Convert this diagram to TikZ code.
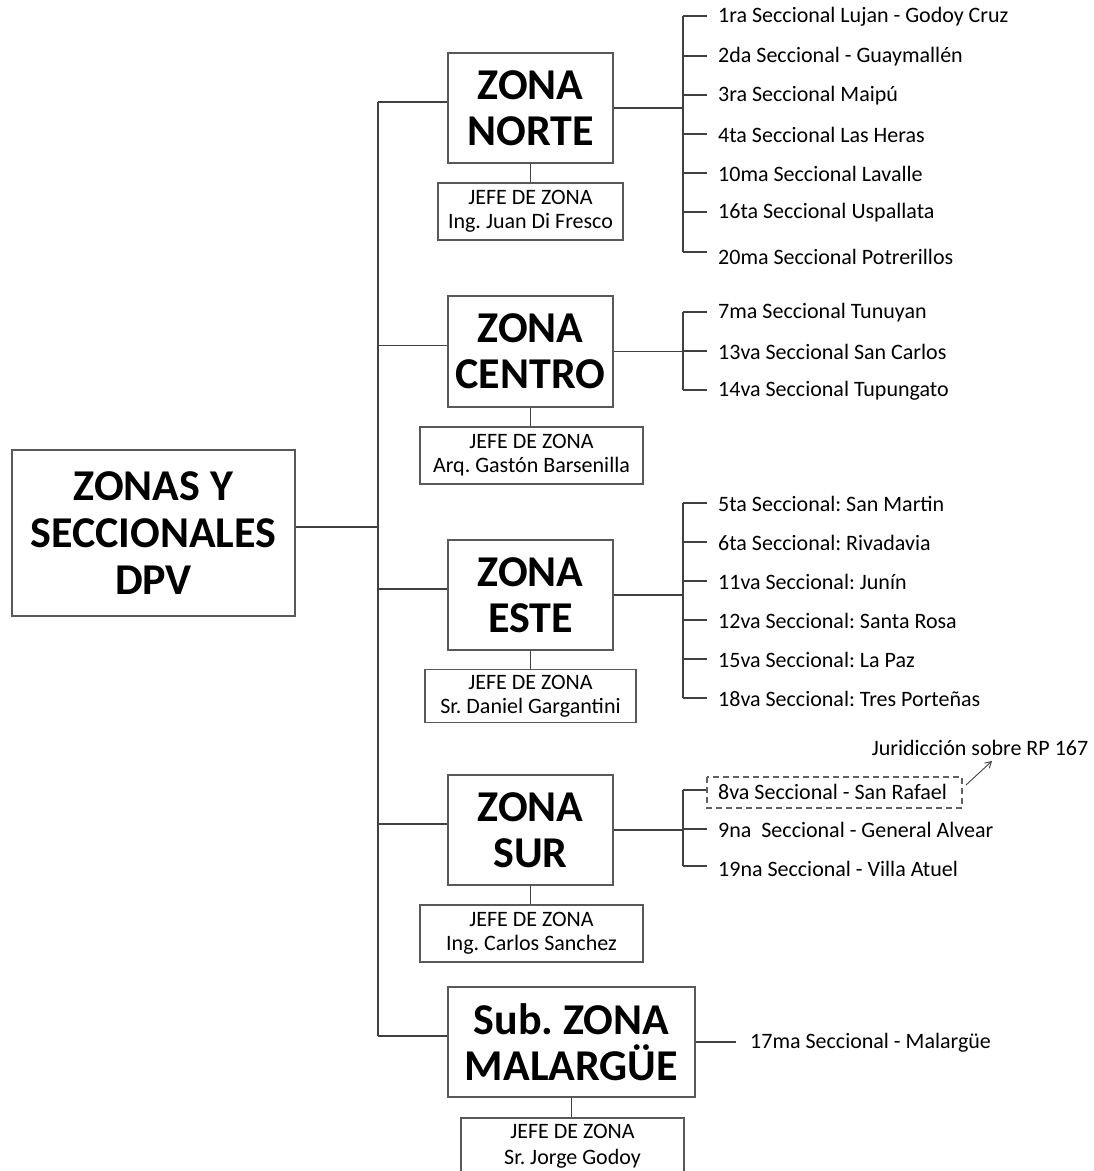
\documentclass[tikz,border=0pt]{standalone}
\usepackage{fontspec}
\setmainfont{Carlito}
\usetikzlibrary{arrows.meta}
\frenchspacing
\begin{document}
\begin{tikzpicture}[x=1pt,y=-1pt,
  ln/.style={draw=black!75, line width=1.3pt},
  bx/.style={draw=black!65, line width=1.6pt, fill=white, align=center, inner sep=0pt},
  big/.style={bx, font=\fontsize{44}{46}\selectfont\bfseries},
  jefe/.style={bx, font=\fontsize{22}{24}\selectfont},
  itm/.style={anchor=west, inner sep=0pt, font=\fontsize{22}{24}\selectfont}]
\useasboundingbox[fill=white] (0,0) rectangle (1094,1171);

% root
\node[big, font=\fontsize{44}{47}\selectfont\bfseries, minimum width=283, minimum height=166] (root) at (153.5,533) {ZONAS Y\\SECCIONALES\\DPV};
\coordinate (tr) at (378,0);

% zones
\node[big, minimum width=165, minimum height=110] (norte) at (530.5,108) {ZONA\\NORTE};
\node[big, minimum width=165, minimum height=111] (centro) at (530.5,351.5) {ZONA\\CENTRO};
\node[big, minimum width=165, minimum height=110] (este) at (530.5,595) {ZONA\\ESTE};
\node[big, minimum width=165, minimum height=110] (sur) at (530.5,830) {ZONA\\SUR};
\node[big, minimum width=247, minimum height=110] (mal) at (571.5,1042) {Sub. ZONA\\MALARGÜE};

% jefes
\node[jefe, minimum width=185, minimum height=57] (jn) at (530.5,211.5) {JEFE DE ZONA\\Ing. Juan Di Fresco};
\node[jefe, minimum width=223, minimum height=57] (jc) at (531.5,455.5) {JEFE DE ZONA\\Arq. Gastón Barsenilla};
\node[jefe, minimum width=211, minimum height=53] (je) at (530.5,696) {JEFE DE ZONA\\Sr. Daniel Gargantini};
\node[jefe, minimum width=223, minimum height=57] (js) at (531.5,933.5) {JEFE DE ZONA\\Ing. Carlos Sanchez};
\node[jefe, font=\fontsize{22}{26}\selectfont, minimum width=223, minimum height=56] (jm) at (572.5,1146) {JEFE DE ZONA\\Sr. Jorge Godoy};

% trunk
\draw[ln] (root.east |- 0,527) -- (tr |- 0,527);
\draw[ln] ([yshift=6pt]norte.west -| tr) -- ([yshift=6pt]mal.west -| tr);
\foreach \z in {norte,centro,este,sur,mal}
  \draw[ln] ([yshift=6pt]\z.west) -- ([yshift=6pt]\z.west -| tr);

% zone to jefe
\draw[ln] (norte.south) -- (jn.north);
\draw[ln] (centro.south) -- (centro.south |- jc.north);
\draw[ln] (este.south) -- (este.south |- je.north);
\draw[ln] (sur.south) -- (sur.south |- js.north);
\draw[ln] (mal.south) -- (mal.south |- jm.north);

% NORTE list
\coordinate (bn) at (683,0);
\foreach \y/\t [count=\i] in {16/1ra Seccional Lujan - Godoy Cruz,
  56/2da Seccional - Guaymallén, 95/3ra Seccional Maipú,
  134/4ta Seccional Las Heras, 173/10ma Seccional Lavalle,
  212/16ta Seccional Uspallata}{
  \node[itm] (n\i) at (718,\y+1) {\t};
  \draw[ln] (bn |- 0,\y) -- ([xshift=-11pt]n\i.west |- 0,\y);
}
\node[itm] (n7) at (718,257) {20ma Seccional Potrerillos};
\draw[ln] (bn |- 0,252) -- ([xshift=-11pt]n7.west |- 0,252);
\draw[ln] (bn |- 0,16) -- (bn |- 0,252);
\draw[ln] (norte.east) -- (norte.east -| bn);

% CENTRO list
\foreach \y/\t [count=\i] in {312/7ma Seccional Tunuyan, 351/13va Seccional San Carlos, 390/14va Seccional Tupungato}{
  \node[itm] (c\i) at (718,\y+1) {\t};
  \draw[ln] (bn |- 0,\y) -- ([xshift=-11pt]c\i.west |- 0,\y);
}
\draw[ln] (bn |- 0,312) -- (bn |- 0,390);
\draw[ln] (centro.east) -- (centro.east -| bn);

% ESTE list
\foreach \y/\t [count=\i] in {503/5ta Seccional: San Martin, 542/6ta Seccional: Rivadavia,
  581/11va Seccional: Junín, 620/12va Seccional: Santa Rosa,
  659/15va Seccional: La Paz, 698/18va Seccional: Tres Porteñas}{
  \node[itm] (e\i) at (718,\y+1) {\t};
  \draw[ln] (bn |- 0,\y) -- ([xshift=-11pt]e\i.west |- 0,\y);
}
\draw[ln] (bn |- 0,503) -- (bn |- 0,698);
\draw[ln] (este.east) -- (este.east -| bn);

% SUR list
\node[itm] (s1) at (718,792) {8va Seccional - San Rafael};
\node[itm] (s2) at (718,830) {9na\ \ Seccional - General Alvear};
\node[itm] (s3) at (718,869) {19na Seccional - Villa Atuel};
\draw[ln] (bn |- 0,790) -- ([xshift=-11pt]s1.west |- 0,790);
\draw[ln] (bn |- 0,829) -- ([xshift=-11pt]s2.west |- 0,829);
\draw[ln] (bn |- 0,866) -- ([xshift=-11pt]s3.west |- 0,866);
\draw[ln] (bn |- 0,790) -- (bn |- 0,866);
\draw[ln] (sur.east) -- (sur.east -| bn);
\draw[draw=black!62, line width=1.3pt, dash pattern=on 6pt off 4pt] (707,777) rectangle (962,808);
\node[itm, anchor=center] (jur) at (980,748) {Juridicción sobre RP 167};
\draw[draw=black!75, line width=0.9pt, -{Straight Barb[length=6pt,width=7pt]}] (966,785) -- (992,761);

% MALARGUE
\node[itm] (m1) at (750,1043) {17ma Seccional - Malargüe};
\draw[ln] (mal.east) -- ([xshift=-14pt]mal.east -| m1.west);
\end{tikzpicture}
\end{document}
